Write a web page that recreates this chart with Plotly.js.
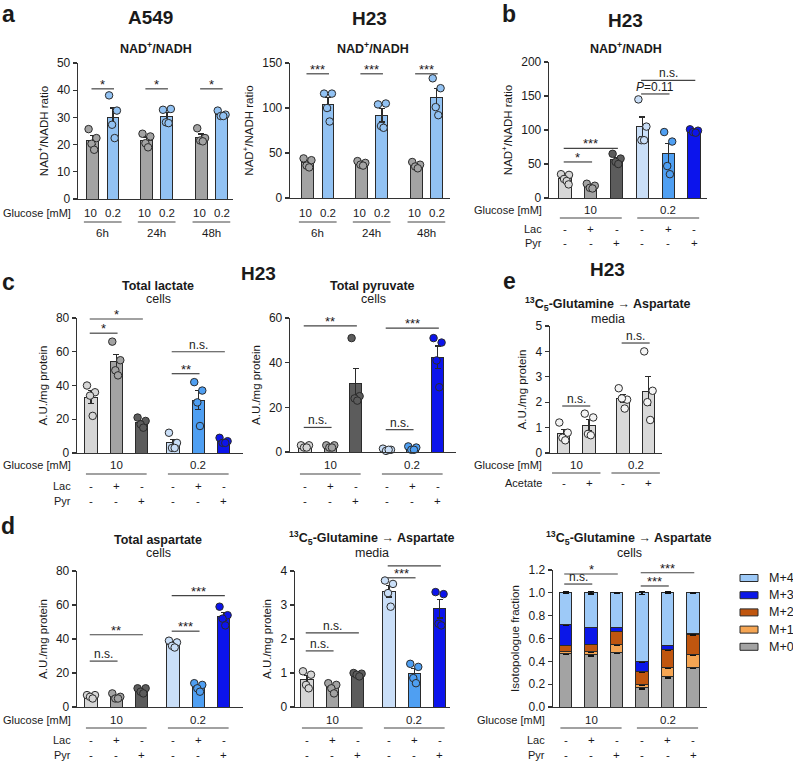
<!DOCTYPE html>
<html><head><meta charset="utf-8">
<script src="https://cdn.plot.ly/plotly-3.0.1.min.js"></script>
<style>html,body{margin:0;padding:0;background:#fff}#chart{width:793px;height:762px}</style>
</head><body><div id="chart"></div>
<script>
// ================= DATA =================
const timePoints = ['6h', '24h', '48h'];
const glucoseLevels = ['10', '0.2'];
// panel a: NAD+/NADH ratio, individual replicates per time point
const a549Gray = [[25.7, 22.4, 20.3, 18.1], [24, 23, 20.5, 19], [26, 22.4, 21.5, 21.2]];
const a549Blue = [[38.1, 32.5, 27.3, 22.4], [32.8, 33.1, 28.2, 27.9], [32.5, 31, 30.5, 30.5]];
const h23Gray = [[44, 42, 36, 34], [41, 39, 37, 36], [40, 37, 35, 33]];
const h23Blue = [[116, 116, 100, 85], [104, 105, 80, 78], [133, 122, 101, 92]];

// condition rows
const lacSigns = ['-', '+', '-', '-', '+', '-'];
const pyrSigns = ['-', '-', '+', '-', '-', '+'];
const acetateSigns = ['-', '+', '-', '+'];

// panel b: NAD+/NADH H23
const nadDots = [[35, 34, 28, 25, 20], [21, 18, 15, 14], [65, 58, 53, 50], [145, 105, 85, 85], [97, 83, 47, 35], [101, 99, 97, 96]];
// panel c
const lactateDots = [[40, 36, 34, 22], [66, 55, 49, 46], [21, 19, 17, 15], [12, 6, 3, 3], [42, 37, 30, 16], [9, 7, 6, 6]];
const pyruvateDots = [[3, 3, 2, 2], [3, 3, 2, 2], [51, 25, 24, 23], [1.5, 1, 0.5, 1], [2.5, 2, 1, 1], [51, 49, 41, 29]];
// panel e
const glnAspMediaE = [[1.2, 0.8, 0.6, 0.5], [1.55, 1.4, 0.75, 0.7], [2.55, 2.1, 2.15, 1.75], [4.0, 2.45, 2.0, 1.3]];
// panel d
const aspartateDots = [[7, 7, 6, 5], [8, 6, 5, 5], [11, 11, 9, 8], [39, 38, 36, 35], [14, 13, 11, 9], [59, 54, 52, 48]];
const glnAspMediaD = [[1.05, 0.95, 0.65, 0.55], [0.7, 0.65, 0.55, 0.4], [1.0, 0.98, 0.95, 0.9], [3.72, 3.62, 3.35, 2.95], [1.27, 1.18, 0.85, 0.7], [3.38, 3.32, 2.45, 2.4]];
// isotopologue fractions (cells)
const isoNames = ['M+0', 'M+1', 'M+2', 'M+3', 'M+4'];
const isoM0 = [0.47, 0.46, 0.475, 0.17, 0.265, 0.35];
const isoM1 = [0.02, 0.025, 0.07, 0.025, 0.08, 0.11];
const isoM2 = [0.05, 0.065, 0.12, 0.115, 0.155, 0.175];
const isoM3 = [0.18, 0.15, 0.035, 0.085, 0.04, 0.005];
const isoM4 = [0.28, 0.30, 0.30, 0.605, 0.46, 0.36];
const isoErrM0 = [0.012, 0.012, 0.006, 0.012, 0.01, 0.008];
const isoErrM1 = [0.005, 0.006, 0.004, 0.006, 0.005, 0.004];
const isoErrM2 = [0.004, 0.005, 0.004, 0.005, 0.005, 0.005];
const isoErrM3 = [0.004, 0.004, 0.004, 0.004, 0.004, 0.003];
const isoErrM4 = [0.008, 0.01, 0.004, 0.012, 0.008, 0.003];

// significance brackets: [barA, barB, height, label]
const sigA549 = [[0, 1, 40.5, '*'], [2, 3, 40.5, '*'], [4, 5, 40.5, '*']];
const sigH23a = [[0, 1, 138, '***'], [2, 3, 138, '***'], [4, 5, 138, '***']];
const sigB = [[0, 1, 53, '*'], [0, 2, 73, '***'], [3, 4, 153, '<i>P</i>=0.11'], [3, 5, 173, 'n.s.']];
const sigLac = [[0, 1, 71, '*'], [0, 2, 79.4, '*'], [3, 4, 47, '**'], [3, 5, 60, 'n.s.']];
const sigPyr = [[0, 2, 56.5, '**'], [3, 5, 55.5, '***'], [0, 1, 11, 'n.s.'], [3, 4, 10, 'n.s.']];
const sigE = [[0, 1, 1.85, 'n.s.'], [2, 3, 4.33, 'n.s.']];
const sigAsp = [[0, 1, 27, 'n.s.'], [0, 2, 42.5, '**'], [3, 4, 44.6, '***'], [3, 5, 65.5, '***']];
const sigMedia = [[0, 1, 1.65, 'n.s.'], [0, 2, 2.18, 'n.s.'], [3, 4, 3.8, '***'], [3, 5, 4.15, 'n.s.']];
const sigIso = [[0, 1, 1.077, 'n.s.'], [0, 2, 1.165, '*'], [3, 4, 1.06, '***'], [3, 5, 1.176, '***']];

// ================= STYLE / LAYOUT =================
const W = 793, H = 762;
const EDGE = '#2b2b2b', TXT = '#1a1a1a', AX = '#333333';
const FONT = 'Liberation Sans, Arial, Helvetica, sans-serif';
const aGray = '#a3a3a3', aBlue = '#92c2f3';
const sixColors = ['#d6d6d6', '#a3a3a3', '#5c5c5c', '#cadff8', '#4f9ff2', '#0c14ec'];
const eColor = '#d9d9d9', eDot = '#f4f4f4';
const isoColors = ['#a3a3a3', '#f5a553', '#c0560f', '#0b17e8', '#9dc9f7'];

const layout = {
  width: W, height: H, margin: {l: 0, r: 0, t: 0, b: 0},
  paper_bgcolor: '#ffffff', plot_bgcolor: 'rgba(0,0,0,0)',
  font: {family: FONT, size: 12, color: TXT},
  showlegend: false, barmode: 'stack', hovermode: false,
  annotations: [], shapes: []
};
const traces = [];
const pX = x => x / W, pY = y => 1 - y / H;
function ann(o) {
  const base = {showarrow: false, xref: 'paper', yref: 'paper', xanchor: 'center', yanchor: 'middle'};
  const f = Object.assign({family: FONT, size: 11.5, color: TXT}, o.font || {});
  layout.annotations.push(Object.assign(base, o, {font: f}));
}
let nSub = 0;
function subplot(p) {
  nSub++;
  const s = nSub === 1 ? '' : String(nSub);
  p.xs = 'x' + s; p.ys = 'y' + s;
  layout['xaxis' + s] = {
    domain: [p.L / W, p.R / W], range: [(p.L - p.c0) / p.unit, (p.R - p.c0) / p.unit],
    anchor: 'y' + s, showline: true, linecolor: AX, linewidth: 1.3, ticks: '',
    showticklabels: false, showgrid: false, zeroline: false, fixedrange: true
  };
  layout['yaxis' + s] = {
    domain: [1 - p.B / H, 1 - p.T / H], range: [0, p.ymax], anchor: 'x' + s,
    showline: true, linecolor: AX, linewidth: 1.3, ticks: 'outside', ticklen: 4,
    tickwidth: 1.3, tickcolor: AX, dtick: p.dtick, tick0: 0, tickformat: p.fmt || '',
    tickfont: {size: 12, color: TXT}, showgrid: false, zeroline: false, fixedrange: true,
    title: {text: p.ytitle, font: {size: 11.5, color: TXT}, standoff: 6}
  };
  return p;
}
const mean = a => a.reduce((s, v) => s + v, 0) / a.length;
const sem = a => { const m = mean(a); return Math.sqrt(a.reduce((s, v) => s + (v - m) * (v - m), 0) / (a.length - 1) / a.length); };
const jit = [-0.33, 0.33, -0.08, 0.14, 0.3];
function barsWithDots(p, groups, colors, dotColors) {
  traces.push({
    type: 'bar', x: p.pos.slice(0, groups.length), y: groups.map(mean), xaxis: p.xs, yaxis: p.ys,
    width: p.bw, marker: {color: colors, line: {color: EDGE, width: 1}},
    error_y: {type: 'data', array: groups.map(sem), visible: true, color: EDGE, thickness: 1.2, width: 3},
    hoverinfo: 'skip'
  });
  const xs = [], ys = [], cs = [];
  groups.forEach((g, i) => g.forEach((v, k) => {
    xs.push(p.pos[i] + jit[k % jit.length] * p.bw); ys.push(v); cs.push(dotColors[i]);
  }));
  traces.push({
    type: 'scatter', mode: 'markers', x: xs, y: ys, xaxis: p.xs, yaxis: p.ys,
    marker: {size: 7.5, color: cs, line: {color: EDGE, width: 1}}, cliponaxis: false, hoverinfo: 'skip'
  });
}
function sig(p, list) {
  list.forEach(([i, j, v, label]) => {
    const star = label.startsWith('*');
    layout.shapes.push({type: 'line', xref: p.xs, yref: p.ys + ' domain',
      x0: p.pos[i] - 0.05, x1: p.pos[j] + 0.05, y0: v / p.ymax, y1: v / p.ymax,
      line: {color: '#444', width: 1.2}});
    ann({xref: p.xs, yref: p.ys, x: (p.pos[i] + p.pos[j]) / 2, y: v, text: label,
      yanchor: 'bottom', yshift: star ? -5 : -2, font: {size: star ? 13 : 12}});
  });
}
function groupLine(p, i, j, ypx, ext) {
  layout.shapes.push({type: 'line', xref: p.xs, yref: 'paper', x0: p.pos[i] - ext, x1: p.pos[j] + ext,
    y0: pY(ypx), y1: pY(ypx), line: {color: '#444', width: 1.2}});
}
function condRows(p, groupsIdx, rows, signRows, ext) {
  groupsIdx.forEach((g, gi) => {
    ann({xref: p.xs, x: (p.pos[g[0]] + p.pos[g[g.length - 1]]) / 2, y: pY(rows.gy), text: glucoseLevels[gi]});
    groupLine(p, g[0], g[g.length - 1], rows.ly, ext);
  });
  signRows.forEach(([signs, ypx]) => signs.forEach((s, i) => ann({xref: p.xs, x: p.pos[i], y: pY(ypx), text: s})));
}
function rowLabels(xRight, items) {
  items.forEach(([t, ypx]) => ann({x: pX(xRight), y: pY(ypx), text: t, xanchor: 'right', font: {size: 11}}));
}

// ================= PANELS =================
const posA = [0, 1, 2.63, 3.63, 5.3, 6.3];
const pos6g = [0, 1, 2, 3.24, 4.24, 5.24];
const pos6 = [0, 1, 2, 3, 4, 5];
const nadTitle = 'NAD<sup>+</sup>/NADH ratio';

// --- a: A549 & H23
function panelA(p, gray, blue, sigs) {
  const groups = [], cols = [];
  gray.forEach((g, t) => { groups.push(g, blue[t]); cols.push(aGray, aBlue); });
  barsWithDots(p, groups, cols, cols);
  sig(p, sigs);
  timePoints.forEach((tp, t) => {
    const i = 2 * t, j = 2 * t + 1;
    ann({xref: p.xs, x: p.pos[i] - 0.08, y: pY(213), text: glucoseLevels[0]});
    ann({xref: p.xs, x: p.pos[j] + 0.02, y: pY(213), text: glucoseLevels[1]});
    groupLine(p, i, j, 222, 0.42);
    ann({xref: p.xs, x: (p.pos[i] + p.pos[j]) / 2, y: pY(233), text: tp});
  });
}
const PA = subplot({L: 78, R: 233, T: 63, B: 199, c0: 92.5, unit: 20.5, pos: posA, bw: 0.58, ymax: 50, dtick: 10, ytitle: nadTitle});
panelA(PA, a549Gray, a549Blue, sigA549);
const PH = subplot({L: 290, R: 450, T: 63, B: 198, c0: 307.5, unit: 20.5, pos: posA, bw: 0.58, ymax: 150, dtick: 50, ytitle: nadTitle});
panelA(PH, h23Gray, h23Blue, sigH23a);
rowLabels(73, [['Glucose [mM]', 213]]);

// --- b
const PB = subplot({L: 549, R: 707, T: 62, B: 198, c0: 565, unit: 25.8, pos: pos6, bw: 0.47, ymax: 200, dtick: 50, ytitle: nadTitle});
barsWithDots(PB, nadDots, sixColors, sixColors);
sig(PB, sigB);
condRows(PB, [[0, 1, 2], [3, 4, 5]], {gy: 210, ly: 218}, [[lacSigns, 229], [pyrSigns, 243]], 0.2);
rowLabels(544, [['Glucose [mM]', 210], ['Lac', 229], ['Pyr', 243]]);

// --- c
const PCL = subplot({L: 77, R: 243, T: 318, B: 453, c0: 91, unit: 25.3, pos: pos6g, bw: 0.48, ymax: 80, dtick: 20, ytitle: 'A.U./mg protein'});
barsWithDots(PCL, lactateDots, sixColors, sixColors);
sig(PCL, sigLac);
condRows(PCL, [[0, 1, 2], [3, 4, 5]], {gy: 465, ly: 474}, [[lacSigns, 486], [pyrSigns, 501]], 0.2);
rowLabels(73, [['Glucose [mM]', 465], ['Lac', 486], ['Pyr', 501]]);

const PCP = subplot({L: 290, R: 456, T: 318, B: 452, c0: 305, unit: 25.3, pos: pos6g, bw: 0.48, ymax: 60, dtick: 20, ytitle: 'A.U./mg protein'});
barsWithDots(PCP, pyruvateDots, sixColors, sixColors);
sig(PCP, sigPyr);
condRows(PCP, [[0, 1, 2], [3, 4, 5]], {gy: 465, ly: 474}, [[lacSigns, 486], [pyrSigns, 501]], 0.2);

// --- e
const PE = subplot({L: 550, R: 662, T: 326, B: 453, c0: 563.5, unit: 25.5, pos: [0, 1, 2.33, 3.33], bw: 0.5, ymax: 5, dtick: 1, ytitle: 'A.U./mg protein'});
barsWithDots(PE, glnAspMediaE, glnAspMediaE.map(() => eColor), glnAspMediaE.map(() => eDot));
sig(PE, sigE);
condRows(PE, [[0, 1], [2, 3]], {gy: 465, ly: 473}, [[acetateSigns, 483]], 0.45);
rowLabels(544, [['Glucose [mM]', 465], ['Acetate', 483]]);

// --- d
const PDA = subplot({L: 77, R: 243, T: 571, B: 707, c0: 91, unit: 25.3, pos: pos6g, bw: 0.48, ymax: 80, dtick: 20, ytitle: 'A.U./mg protein'});
barsWithDots(PDA, aspartateDots, sixColors, sixColors);
sig(PDA, sigAsp);
condRows(PDA, [[0, 1, 2], [3, 4, 5]], {gy: 720, ly: 728}, [[lacSigns, 740], [pyrSigns, 755]], 0.2);
rowLabels(73, [['Glucose [mM]', 720], ['Lac', 740], ['Pyr', 755]]);

const PDM = subplot({L: 295, R: 450, T: 571, B: 707, c0: 307, unit: 25.3, pos: pos6g, bw: 0.48, ymax: 4, dtick: 1, ytitle: 'A.U./mg protein'});
barsWithDots(PDM, glnAspMediaD, sixColors, sixColors);
sig(PDM, sigMedia);
condRows(PDM, [[0, 1, 2], [3, 4, 5]], {gy: 720, ly: 728}, [[lacSigns, 740], [pyrSigns, 755]], 0.2);

const PDS = subplot({L: 553, R: 707, T: 570, B: 707, c0: 565.5, unit: 25.5, pos: pos6, bw: 0.5, ymax: 1.2, dtick: 0.2, fmt: '.1f', ytitle: 'Isotopologue fraction'});
const isoSeries = [isoM0, isoM1, isoM2, isoM3, isoM4];
const isoErrs = [isoErrM0, isoErrM1, isoErrM2, isoErrM3, isoErrM4];
isoSeries.forEach((ser, k) => traces.push({
  type: 'bar', name: isoNames[k], x: PDS.pos, y: ser, xaxis: PDS.xs, yaxis: PDS.ys, width: PDS.bw,
  marker: {color: isoColors[k], line: {color: EDGE, width: 1}},
  error_y: {type: 'data', array: isoErrs[k], visible: true, color: '#111', thickness: 1.3, width: 3},
  hoverinfo: 'skip'
}));
sig(PDS, sigIso);
condRows(PDS, [[0, 1, 2], [3, 4, 5]], {gy: 720, ly: 728}, [[lacSigns, 740], [pyrSigns, 755]], 0.2);
rowLabels(547, [['Glucose [mM]', 720], ['Lac', 740], ['Pyr', 755]]);
// legend (top = M+4)
isoNames.slice().reverse().forEach((nm, r) => {
  const k = isoNames.length - 1 - r;
  const yc = 578 + r * 17.2;
  layout.shapes.push({type: 'rect', xref: 'paper', yref: 'paper', x0: pX(740), x1: pX(758), y0: pY(yc + 3.5), y1: pY(yc - 3.5),
    fillcolor: isoColors[k], line: {color: EDGE, width: 1}});
  ann({x: pX(767), y: pY(yc), text: nm, xanchor: 'left', font: {size: 12.5}});
});

// ================= TITLES =================
const letter = (t, x, y) => ann({x: pX(x), y: pY(y), text: '<b>' + t + '</b>', font: {size: 23}});
letter('a', 8, 14); letter('b', 509, 14); letter('c', 8, 282); letter('e', 509, 281); letter('d', 8, 526);
const cell = (t, x, y) => ann({x: pX(x), y: pY(y), text: '<b>' + t + '</b>', font: {size: 19}});
cell('A549', 150, 18); cell('H23', 369, 19); cell('H23', 625, 21); cell('H23', 258, 273); cell('H23', 607, 269);
const sub = (t, x, y) => ann({x: pX(x), y: pY(y), text: '<b>' + t + '</b>', font: {size: 12.5}});
const plain = (t, x, y) => ann({x: pX(x), y: pY(y), text: t, font: {size: 12.5}});
sub('NAD<sup>+</sup>/NADH', 156, 48); sub('NAD<sup>+</sup>/NADH', 373, 48); sub('NAD<sup>+</sup>/NADH', 626, 48);
sub('Total lactate', 158, 286); plain('cells', 158, 299);
sub('Total pyruvate', 372, 286); plain('cells', 373, 299);
const glnTitle = '<sup>13</sup>C<sub>5</sub>-Glutamine → Aspartate';
sub(glnTitle, 608, 304); plain('media', 608, 319);
sub('Total aspartate', 158, 540); plain('cells', 158, 553);
sub(glnTitle, 372, 538); plain('media', 372, 553);
sub(glnTitle, 629, 538); plain('cells', 629, 553);

Plotly.newPlot('chart', traces, layout, {staticPlot: true, displayModeBar: false});
</script></body></html>
